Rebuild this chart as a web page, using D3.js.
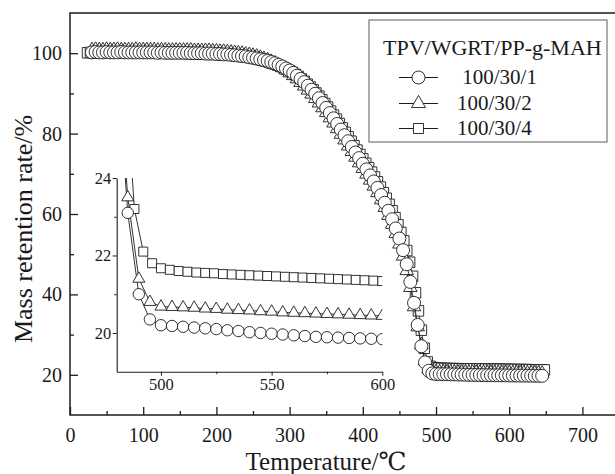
<!DOCTYPE html>
<html>
<head>
<meta charset="utf-8">
<script src="https://cdn.jsdelivr.net/npm/d3@7"></script>
<style>
  html, body { margin: 0; padding: 0; background: #fff; }
  svg { display: block; }
  text { fill: #1a1a1a; font-family: "Liberation Serif", "DejaVu Serif", "Times New Roman", serif; }
</style>
</head>
<body>
<svg id="chart" width="615" height="474"></svg>
<script>
// ---- data: TGA mass retention (%) vs temperature (°C) ----
const legendTitle = "TPV/WGRT/PP-g-MAH";
const seriesLabels = [" 100/30/1", "100/30/2", "100/30/4"];

// 100/30/1 (circles): sampled every 5 °C from 30 °C
const circleStart = 30, circleStep = 5;
const circleValues = [
  100.2,100.3,100.2,100.2,100.3,100.2,100.2,100.2,100.3,100.2,
  100.2,100.2,100.2,100.2,100.2,100.2,100.2,100.2,100.1,100.2,
  100.1,100.1,100.1,100.1,100.1,100.1,100.1,100.0,100.0,100.0,
  100.0,99.9,99.9,99.9,99.8,99.8,99.7,99.7,99.6,99.5,
  99.4,99.3,99.2,99.0,98.9,98.7,98.5,98.3,98.1,97.8,
  97.5,97.1,96.7,96.2,95.7,95.1,94.4,93.6,92.8,91.9,
  90.9,89.9,88.8,87.6,86.4,85.1,83.8,82.4,81.0,79.6,
  78.1,76.7,75.3,73.9,72.5,71.1,69.6,68.1,66.5,64.7,
  62.8,60.8,58.7,56.4,53.9,51.0,47.5,43.1,37.9,32.4,
  27.1,23.1,21.0,20.35,20.2,20.18,20.16,20.14,20.12,20.1,
  20.07,20.05,20.02,20.0,19.98,19.96,19.94,19.92,19.9,19.89,
  19.88,19.87,19.86,19.85,19.84,19.83,19.82,19.81,19.8,19.79,
  19.78,19.77,19.76,19.75
];

// 100/30/2 (triangles): sampled every 5 °C from 30 °C
const triangleStart = 30, triangleStep = 5;
const triangleValues = [
  100.8,100.9,100.8,100.8,100.9,100.8,100.8,100.9,100.8,100.8,
  100.8,100.8,100.9,100.8,100.8,100.8,100.8,100.8,100.7,100.8,
  100.7,100.7,100.7,100.7,100.7,100.7,100.7,100.7,100.6,100.6,
  100.6,100.6,100.6,100.5,100.5,100.4,100.4,100.3,100.2,100.1,
  100.0,99.9,99.7,99.6,99.4,99.2,98.9,98.6,98.3,97.9,
  97.5,97.0,96.4,95.8,95.1,94.4,93.6,92.7,91.8,90.8,
  89.8,88.7,87.6,86.4,85.2,83.9,82.6,81.2,79.8,78.4,
  76.9,75.5,74.1,72.7,71.3,69.9,68.4,66.9,65.3,63.5,
  61.6,59.6,57.4,55.1,52.5,49.5,45.9,41.7,36.9,31.9,
  27.4,23.5,21.4,20.8,20.68,20.67,20.66,20.65,20.63,20.62,
  20.6,20.59,20.58,20.56,20.55,20.53,20.52,20.51,20.5,20.49,
  20.48,20.47,20.46,20.45,20.44,20.43,20.42,20.41,20.4,20.39,
  20.38,20.37,20.36,20.35
];

// 100/30/4 (squares): sampled every 4 °C from 24 °C
const squareStart = 24, squareStep = 4;
const squareValues = [
  100.1,100.2,100.1,100.1,100.2,100.1,100.1,100.2,100.1,100.1,
  100.1,100.2,100.1,100.1,100.1,100.2,100.1,100.1,100.1,100.1,
  100.1,100.1,100.1,100.1,100.0,100.1,100.1,100.0,100.0,100.0,
  100.0,100.0,100.0,100.0,100.0,99.9,99.9,99.9,99.9,99.9,
  99.9,99.8,99.8,99.8,99.8,99.7,99.7,99.6,99.6,99.5,
  99.5,99.4,99.3,99.2,99.1,99.0,98.9,98.7,98.6,98.4,
  98.2,98.0,97.8,97.5,97.3,97.0,96.7,96.4,96.0,95.6,
  95.2,94.7,94.2,93.6,93.0,92.3,91.6,90.9,90.1,89.3,
  88.4,87.5,86.6,85.6,84.6,83.6,82.5,81.4,80.3,79.2,
  78.1,77.0,75.9,74.8,73.7,72.6,71.5,70.4,69.2,68.0,
  66.7,65.3,63.9,62.4,60.8,59.1,57.3,55.4,53.3,50.9,
  48.0,44.5,40.4,35.9,31.1,26.6,23.2,22.1,21.8,21.67,
  21.63,21.6,21.58,21.56,21.55,21.54,21.52,21.51,21.5,21.49,
  21.48,21.47,21.46,21.45,21.44,21.43,21.42,21.41,21.4,21.39,
  21.38,21.37,21.36,21.35,21.34,21.33,21.32,21.31,21.3,21.29,
  21.28,21.27,21.26,21.25,21.24,21.23,21.22
];

// axis ticks
const xTicksMain = [0, 100, 200, 300, 400, 500, 600, 700];
const xMinorMain = [50, 150, 250, 350, 450, 550, 650];
const yTicksMain = [20, 40, 60, 80, 100];
const yMinorMain = [30, 50, 70, 90];
const xTicksInset = [500, 550, 600];
const xMinorInset = [525, 575];
const yTicksInset = [20, 22, 24];
const yMinorInset = [21, 23];

const xTitle = "Temperature/\u2103";
const yTitle = "Mass retention rate/%";

// ---- build series ----
function toPoints(start, step, values) {
  return values.map((v, i) => ({ t: start + i * step, v }));
}
const series = [
  { label: seriesLabels[2], shape: "square",   pts: toPoints(squareStart, squareStep, squareValues) },
  { label: seriesLabels[1], shape: "triangle", pts: toPoints(triangleStart, triangleStep, triangleValues) },
  { label: seriesLabels[0], shape: "circle",   pts: toPoints(circleStart, circleStep, circleValues) }
];

const ink = "#1c1c1c";
const serif = '"Liberation Serif", "DejaVu Serif", "Times New Roman", serif';
const svg = d3.select("#chart");

// symbol path for a marker of given nominal width
function markerPath(shape, w) {
  if (shape === "circle") return d3.symbol(d3.symbolCircle, Math.PI * (w / 2) * (w / 2))();
  if (shape === "square") return d3.symbol(d3.symbolSquare, w * w)();
  return d3.symbol(d3.symbolTriangle, Math.sqrt(3) / 4 * w * w)();
}
const mainSize = { circle: 13, triangle: 13.5, square: 10.5 };
const insetSize = { circle: 11.4, triangle: 12, square: 9 };
const legendSize = { circle: 13, triangle: 14, square: 10 };

// ---- main plot ----
const x = d3.scaleLinear().domain([0, 750]).range([70, 619]);
const y = d3.scaleLinear().domain([10, 110]).range([415, 13]);

const line = d3.line().x(d => x(d.t)).y(d => y(d.v));
const gMain = svg.append("g");
series.forEach(s => {
  gMain.append("path").datum(s.pts).attr("d", line)
    .attr("fill", "none").attr("stroke", ink).attr("stroke-width", 0.8);
  const p = markerPath(s.shape, mainSize[s.shape]);
  gMain.append("g").selectAll("path").data(s.pts).join("path")
    .attr("d", p)
    .attr("transform", d => `translate(${x(d.t)},${y(d.v)})`)
    .attr("fill", "#fff").attr("stroke", ink).attr("stroke-width", 0.9);
});

// frame
svg.append("rect")
  .attr("x", x(0)).attr("y", y(110))
  .attr("width", x(750) - x(0)).attr("height", y(10) - y(110))
  .attr("fill", "none").attr("stroke", ink).attr("stroke-width", 1.5);

function styleAxis(g, size) {
  g.attr("font-family", serif).attr("font-size", size);
  g.select(".domain").remove();
  g.selectAll(".tick line").attr("stroke", ink).attr("stroke-width", 1.3);
  g.selectAll(".tick text").attr("fill", "#1a1a1a").attr("font-family", serif);
}

svg.append("g").attr("transform", `translate(0,${y(10)})`)
  .call(d3.axisBottom(x).tickValues(xTicksMain).tickSize(-8).tickPadding(13).tickFormat(d3.format("d")))
  .call(g => styleAxis(g, 20));
svg.append("g").attr("transform", `translate(0,${y(10)})`)
  .call(d3.axisBottom(x).tickValues(xMinorMain).tickSize(-4).tickFormat(""))
  .call(g => styleAxis(g, 20));
svg.append("g").attr("transform", `translate(${x(0)},0)`)
  .call(d3.axisLeft(y).tickValues(yTicksMain).tickSize(-8).tickPadding(8).tickFormat(d3.format("d")))
  .call(g => styleAxis(g, 20));
svg.append("g").attr("transform", `translate(${x(0)},0)`)
  .call(d3.axisLeft(y).tickValues(yMinorMain).tickSize(-4).tickFormat(""))
  .call(g => styleAxis(g, 20));

// axis titles
svg.append("text")
  .attr("x", 326).attr("y", 470)
  .attr("text-anchor", "middle").attr("font-size", 25).attr("font-family", serif)
  .text(xTitle);
svg.append("text")
  .attr("transform", "translate(32,229) rotate(-90)")
  .attr("text-anchor", "middle").attr("font-size", 26).attr("font-family", serif)
  .text(yTitle);

// ---- inset: 480–600 °C ----
const xi = d3.scaleLinear().domain([480, 600]).range([116.7, 382.3]);
const yi = d3.scaleLinear().domain([19, 24]).range([371.7, 178]);

svg.append("clipPath").attr("id", "insetClip")
  .append("rect")
  .attr("x", xi(480)).attr("y", yi(24))
  .attr("width", xi(600) - xi(480)).attr("height", yi(19) - yi(24));

const lineInset = d3.line().x(d => xi(d.t)).y(d => yi(d.v));
const gInset = svg.append("g").attr("clip-path", "url(#insetClip)");
series.forEach(s => {
  const pts = s.pts.filter(d => d.t >= 470 && d.t <= 610);
  gInset.append("path").datum(pts).attr("d", lineInset)
    .attr("fill", "none").attr("stroke", ink).attr("stroke-width", 0.9);
});
series.forEach(s => {
  const pts = s.pts.filter(d => d.t >= 470 && d.t <= 610);
  const p = markerPath(s.shape, insetSize[s.shape]);
  gInset.append("g").selectAll("path").data(pts).join("path")
    .attr("d", p)
    .attr("transform", d => `translate(${xi(d.t)},${yi(d.v)})`)
    .attr("fill", "#fff").attr("stroke", ink).attr("stroke-width", 0.9);
});

function styleInsetAxis(g) {
  g.attr("font-family", serif).attr("font-size", 16.5);
  g.select(".domain").attr("stroke", ink).attr("stroke-width", 1.1);
  g.selectAll(".tick line").attr("stroke", ink).attr("stroke-width", 1);
  g.selectAll(".tick text").attr("fill", "#1a1a1a").attr("font-family", serif);
}
svg.append("g").attr("transform", `translate(0,${yi(19)})`)
  .call(d3.axisBottom(xi).tickValues(xTicksInset).tickSize(4).tickSizeOuter(0).tickPadding(2.6).tickFormat(d3.format("d")))
  .call(styleInsetAxis);
svg.append("g").attr("transform", `translate(0,${yi(19)})`)
  .call(d3.axisBottom(xi).tickValues(xMinorInset).tickSize(2.5).tickSizeOuter(0).tickFormat(""))
  .call(g => { styleInsetAxis(g); g.select(".domain").remove(); });
svg.append("g").attr("transform", `translate(${xi(480)},0)`)
  .call(d3.axisLeft(yi).tickValues(yTicksInset).tickSize(4).tickSizeOuter(0).tickPadding(1.5).tickFormat(d3.format("d")))
  .call(styleInsetAxis);
svg.append("g").attr("transform", `translate(${xi(480)},0)`)
  .call(d3.axisLeft(yi).tickValues(yMinorInset).tickSize(2.5).tickSizeOuter(0).tickFormat(""))
  .call(g => { styleInsetAxis(g); g.select(".domain").remove(); });

// ---- legend ----
const legend = svg.append("g");
legend.append("rect")
  .attr("x", 369).attr("y", 20).attr("width", 238).attr("height", 122)
  .attr("fill", "#fff").attr("stroke", "#6a6a6a").attr("stroke-width", 1.1);
legend.append("text").attr("x", 383).attr("y", 55)
  .attr("font-size", 22).attr("font-family", serif).text(legendTitle);

const legendOrder = [series[2], series[1], series[0]];
const rowBaselines = [84, 110, 135];
legendOrder.forEach((s, i) => {
  const cy = rowBaselines[i] - 6.5;
  legend.append("line")
    .attr("x1", 399).attr("x2", 438).attr("y1", cy).attr("y2", cy)
    .attr("stroke", ink).attr("stroke-width", 1);
  legend.append("path")
    .attr("d", markerPath(s.shape, legendSize[s.shape]))
    .attr("transform", `translate(418.5,${cy})`)
    .attr("fill", "#fff").attr("stroke", ink).attr("stroke-width", 0.9);
  legend.append("text")
    .attr("x", 457).attr("y", rowBaselines[i])
    .attr("font-size", 21).attr("font-family", serif).style("white-space", "pre")
    .text(s.label);
});
</script>
</body>
</html>
